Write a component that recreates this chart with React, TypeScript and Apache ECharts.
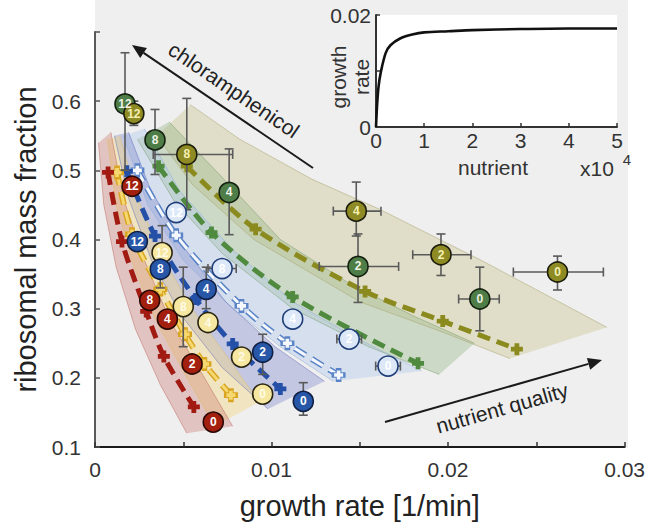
import React, { useEffect, useRef } from "react";
import * as echarts from "echarts";

const FONT = '"Liberation Sans", Arial, Helvetica, sans-serif';

// chloramphenicol levels printed on the markers
const levels = [0, 2, 4, 8, 12];

// measured points: growth rate [1/min] and ribosomal mass fraction, ordered by level
const oliveRate = [0.0262, 0.0196, 0.0148, 0.0052, 0.0022];
const oliveFrac = [0.353, 0.378, 0.441, 0.523, 0.582];
const oliveRateErr = [[0.0237, 0.0288], [0.018, 0.0213], [0.0135, 0.0162], [0.0033, 0.0078], null];
const oliveFracErr = [[0.327, 0.376], [0.348, 0.408], [0.405, 0.483], [0.443, 0.604], [0.565, 0.6]];

const greenRate = [0.0218, 0.0149, 0.0076, 0.0034, 0.0017];
const greenFrac = [0.314, 0.361, 0.468, 0.544, 0.596];
const greenRateErr = [[0.0206, 0.0229], [0.0127, 0.0172], null, null, null];
const greenFracErr = [[0.268, 0.36], [0.309, 0.408], [0.407, 0.531], [0.494, 0.588], [0.5, 0.67]];

const lightRate = [0.0166, 0.0144, 0.0112, 0.0072, 0.0046];
const lightFrac = [0.217, 0.256, 0.285, 0.358, 0.439];
const lightRateErr = [[0.0159, 0.0173], [0.0137, 0.0151], null, [0.0064, 0.008], null];
const lightFracErr = [null, null, null, null, null];

const blueRate = [0.0118, 0.0095, 0.0063, 0.0037, 0.0024];
const blueFrac = [0.166, 0.237, 0.328, 0.357, 0.397];
const blueRateErr = [null, null, null, null, null];
const blueFracErr = [[0.146, 0.193], [0.205, 0.263], [0.3, 0.36], [0.33, 0.385], null];

const yellowRate = [0.0095, 0.0083, 0.0064, 0.005, 0.0038];
const yellowFrac = [0.1765, 0.23, 0.28, 0.303, 0.381];
const yellowRateErr = [null, null, null, null, null];
const yellowFracErr = [null, null, null, [0.245, 0.36], [0.36, 0.42]];

const redRate = [0.0067, 0.0055, 0.0041, 0.0031, 0.0021];
const redFrac = [0.136, 0.22, 0.285, 0.312, 0.477];
const redRateErr = [null, null, null, null, null];
const redFracErr = [null, null, null, null, null];

// model mean trajectories (dashed)
const oliveModel = [[0.0052, 0.506], [0.0091, 0.415], [0.0153, 0.325], [0.0197, 0.282], [0.0239, 0.2415]];
const greenModel = [[0.0036, 0.506], [0.0066, 0.41], [0.0112, 0.317], [0.0183, 0.221]];
const lightModel = [[0.0024, 0.5], [0.0046, 0.406], [0.0083, 0.304], [0.0109, 0.25], [0.0138, 0.204]];
const blueModel = [[0.0018, 0.4985], [0.0034, 0.405], [0.0057, 0.314], [0.0078, 0.249], [0.0105, 0.184]];
const yellowModel = [[0.00125, 0.497], [0.0021, 0.4075], [0.0037, 0.328], [0.0051, 0.263], [0.0062, 0.22], [0.0077, 0.175]];
const redModel = [[0.00074, 0.497], [0.00153, 0.397], [0.0029, 0.296], [0.0039, 0.231], [0.0056, 0.158]];

// spread of model simulations (lower / upper edges of each fan)
const oliveLo = [[0.0035, 0.55], [0.0055, 0.48], [0.009, 0.4], [0.015, 0.31], [0.0195, 0.268], [0.0235, 0.228]];
const oliveHi = [[0.0054, 0.595], [0.0082, 0.545], [0.0123, 0.487], [0.0161, 0.444], [0.0218, 0.371], [0.029, 0.273]];
const greenLo = [[0.0024, 0.545], [0.0045, 0.455], [0.0072, 0.38], [0.0112, 0.3], [0.0155, 0.245], [0.0195, 0.205]];
const greenHi = [[0.0042, 0.57], [0.0072, 0.49], [0.0105, 0.4], [0.0145, 0.335], [0.018, 0.29], [0.0215, 0.25]];
const lightLo = [[0.0016, 0.55], [0.003, 0.45], [0.005, 0.37], [0.0078, 0.3], [0.0105, 0.245], [0.0135, 0.195]];
const lightHi = [[0.0028, 0.56], [0.0048, 0.47], [0.0078, 0.385], [0.0112, 0.31], [0.015, 0.255], [0.0185, 0.21]];
const blueLo = [[0.0011, 0.55], [0.0019, 0.46], [0.0032, 0.37], [0.0049, 0.29], [0.0072, 0.215], [0.0098, 0.155]];
const blueHi = [[0.0019, 0.555], [0.0031, 0.475], [0.005, 0.39], [0.0074, 0.31], [0.0102, 0.245], [0.013, 0.195]];
const yellowLo = [[0.0007, 0.545], [0.0012, 0.45], [0.0022, 0.36], [0.0035, 0.28], [0.0052, 0.2], [0.0068, 0.13]];
const yellowHi = [[0.0014, 0.55], [0.0024, 0.46], [0.0038, 0.375], [0.0055, 0.3], [0.0075, 0.23], [0.0093, 0.165]];
const redLo = [[0.0002, 0.54], [0.0005, 0.45], [0.0012, 0.36], [0.0023, 0.27], [0.0037, 0.19], [0.0052, 0.12]];
const redHi = [[0.0009, 0.555], [0.0016, 0.46], [0.0028, 0.37], [0.0043, 0.28], [0.0062, 0.2], [0.0078, 0.13]];

// inset: growth rate vs nutrient
const nutrient = [0, 200, 500, 1000, 2000, 3000, 5000, 7500, 10000, 15000, 20000, 30000, 40000, 50000];
const insetGrowth = [0, 0.0035, 0.007, 0.0098, 0.0132, 0.0146, 0.0158, 0.0165, 0.0169, 0.0171, 0.0173, 0.0175, 0.0176, 0.0176];

const PLUS = "path://M3,0H7V3H10V7H7V10H3V7H0V3H3Z";

const strains = [
  { rate: oliveRate, frac: oliveFrac, rErr: oliveRateErr, fErr: oliveFracErr, lo: oliveLo, hi: oliveHi, model: oliveModel,
    fill: "#8e8b24", border: "#1c1c0c", text: "#f4f0b2", band: "rgba(196,190,130,0.36)", edge: "rgba(165,160,105,0.6)", dash: "#8b8a1e", inner: null },
  { rate: greenRate, frac: greenFrac, rErr: greenRateErr, fErr: greenFracErr, lo: greenLo, hi: greenHi, model: greenModel,
    fill: "#4e7d47", border: "#142010", text: "#eef3e6", band: "rgba(145,178,128,0.36)", edge: "rgba(120,155,105,0.6)", dash: "#4f8a3e", inner: null },
  { rate: lightRate, frac: lightFrac, rErr: lightRateErr, fErr: lightFracErr, lo: lightLo, hi: lightHi, model: lightModel,
    fill: "#dce8f8", border: "#1f3e78", text: "#ffffff", band: "rgba(175,200,235,0.4)", edge: "rgba(140,170,215,0.6)", dash: "#5b84c8", inner: "#f4f7fc" },
  { rate: blueRate, frac: blueFrac, rErr: blueRateErr, fErr: blueFracErr, lo: blueLo, hi: blueHi, model: blueModel,
    fill: "#2857a8", border: "#0f1f44", text: "#ffffff", band: "rgba(110,122,200,0.34)", edge: "rgba(95,105,185,0.6)", dash: "#2450a8", inner: null },
  { rate: yellowRate, frac: yellowFrac, rErr: yellowRateErr, fErr: yellowFracErr, lo: yellowLo, hi: yellowHi, model: yellowModel,
    fill: "#f6e7a1", border: "#2a2510", text: "#fffbe6", band: "rgba(245,215,125,0.4)", edge: "rgba(225,190,100,0.6)", dash: "#d9a521", inner: "#f5d970" },
  { rate: redRate, frac: redFrac, rErr: redRateErr, fErr: redFracErr, lo: redLo, hi: redHi, model: redModel,
    fill: "#a3200f", border: "#2a0804", text: "#ffffff", band: "rgba(200,115,105,0.34)", edge: "rgba(190,100,90,0.6)", dash: "#a11b12", inner: null },
];

function buildOption() {
  const series: any[] = [];

  // fans of model simulations
  strains.forEach((s) => {
    const poly = [...s.lo, ...s.hi.slice().reverse()];
    series.push({
      type: "custom", xAxisIndex: 0, yAxisIndex: 0, silent: true, z: 1,
      data: [s.lo[0]],
      renderItem: (_p: any, api: any) => ({
        type: "polygon",
        shape: { points: poly.map((p) => api.coord(p)) },
        style: { fill: s.band, stroke: null },
      }),
    });
  });
  strains.forEach((s) => {
    [s.lo, s.hi].forEach((edge) =>
      series.push({
        type: "line", xAxisIndex: 0, yAxisIndex: 0, silent: true, z: 1, showSymbol: false,
        data: edge, lineStyle: { color: s.edge, width: 0.8 },
      })
    );
  });

  // dashed model lines
  strains.forEach((s) => {
    series.push({
      type: "line", xAxisIndex: 0, yAxisIndex: 0, silent: true, z: 3, smooth: 0.3,
      data: s.model, symbol: PLUS, symbolSize: s.inner ? 14 : 12, showSymbol: true,
      itemStyle: { color: s.dash },
      lineStyle: { color: s.dash, width: s.inner ? 6 : 5, type: [13, 7] },
    });
    if (s.inner) {
      series.push({
        type: "line", xAxisIndex: 0, yAxisIndex: 0, silent: true, z: 3, smooth: 0.3,
        data: s.model, symbol: PLUS, symbolSize: 9, showSymbol: true,
        itemStyle: { color: s.inner },
        lineStyle: { color: s.inner, width: 3, type: [13, 7] },
      });
    }
  });

  // error bars
  const errs: any[] = [];
  strains.forEach((s) => {
    s.rate.forEach((r, i) => {
      const xe = s.rErr[i];
      const ye = s.fErr[i];
      if (xe || ye) errs.push({ x: r, y: s.frac[i], xe, ye });
    });
  });
  series.push({
    type: "custom", xAxisIndex: 0, yAxisIndex: 0, silent: true, z: 4,
    data: errs.map((e) => [e.x, e.y]),
    renderItem: (p: any, api: any) => {
      const e = errs[p.dataIndex];
      const st = { stroke: "#5a5a5a", lineWidth: 1.6 };
      const ch: any[] = [];
      const cap = 4.5;
      if (e.ye) {
        const a = api.coord([e.x, e.ye[0]]);
        const b = api.coord([e.x, e.ye[1]]);
        ch.push({ type: "line", shape: { x1: a[0], y1: a[1], x2: b[0], y2: b[1] }, style: st });
        ch.push({ type: "line", shape: { x1: a[0] - cap, y1: a[1], x2: a[0] + cap, y2: a[1] }, style: st });
        ch.push({ type: "line", shape: { x1: b[0] - cap, y1: b[1], x2: b[0] + cap, y2: b[1] }, style: st });
      }
      if (e.xe) {
        const a = api.coord([e.xe[0], e.y]);
        const b = api.coord([e.xe[1], e.y]);
        ch.push({ type: "line", shape: { x1: a[0], y1: a[1], x2: b[0], y2: b[1] }, style: st });
        ch.push({ type: "line", shape: { x1: a[0], y1: a[1] - cap, x2: a[0], y2: a[1] + cap }, style: st });
        ch.push({ type: "line", shape: { x1: b[0], y1: b[1] - cap, x2: b[0], y2: b[1] + cap }, style: st });
      }
      return { type: "group", children: ch };
    },
  });

  // measured markers (drawing order for overlaps)
  [1, 0, 2, 4, 3, 5].forEach((k) => {
    const s = strains[k];
    series.push({
      type: "scatter", xAxisIndex: 0, yAxisIndex: 0, z: 5, silent: true,
      symbol: "circle", symbolSize: 20,
      data: s.rate.map((r, i) => [r, s.frac[i], levels[i]]),
      itemStyle: { color: s.fill, borderColor: s.border, borderWidth: 1.6, opacity: 1 },
      label: {
        show: true, position: "inside", formatter: (p: any) => String(p.value[2]),
        color: s.text, fontSize: 12, fontWeight: "bold", fontFamily: FONT,
      },
    });
  });

  // inset curve
  series.push({
    type: "line", xAxisIndex: 1, yAxisIndex: 1, z: 6, silent: true, smooth: 0.3, showSymbol: false,
    data: nutrient.map((n, i) => [n, insetGrowth[i]]),
    lineStyle: { color: "#111", width: 2.6 },
  });

  const labelFont = { fontFamily: FONT, color: "#333", fontSize: 21 };

  return {
    animation: false,
    backgroundColor: "#ffffff",
    grid: [
      { left: 95, top: 32, width: 530, height: 416 },
      { left: 376, top: 15, width: 241, height: 112 },
    ],
    xAxis: [
      {
        type: "value", gridIndex: 0, min: 0, max: 0.03, interval: 0.005,
        axisLine: { show: true, lineStyle: { color: "#1a1a1a", width: 2 } },
        axisTick: { show: true, inside: true, length: 5, lineStyle: { color: "#333", width: 1.5 } },
        axisLabel: {
          ...labelFont, margin: 12,
          formatter: (v: number) => (Math.round(v * 1000) % 10 === 0 ? String(Math.round(v * 100) / 100) : ""),
        },
        splitLine: { show: false },
        name: "growth rate [1/min]", nameLocation: "middle", nameGap: 44,
        nameTextStyle: { fontFamily: FONT, fontSize: 29, color: "#222" },
      },
      {
        type: "value", gridIndex: 1, min: 0, max: 50000, interval: 10000,
        axisLine: { show: true, lineStyle: { color: "#333", width: 2 } },
        axisTick: { show: true, inside: true, length: 4, lineStyle: { color: "#333", width: 1.5 } },
        axisLabel: { ...labelFont, margin: 3, formatter: (v: number) => String(v / 10000) },
        splitLine: { show: false },
      },
    ],
    yAxis: [
      {
        type: "value", gridIndex: 0, min: 0.1, max: 0.7, interval: 0.1,
        axisLine: { show: true, lineStyle: { color: "#5a5a5a", width: 2 } },
        axisTick: { show: true, inside: true, length: 5, lineStyle: { color: "#555", width: 1.5 } },
        axisLabel: { ...labelFont, margin: 14, formatter: (v: number) => (v > 0.65 ? "" : v.toFixed(1)) },
        splitLine: { show: false },
        name: "ribosomal mass fraction", nameLocation: "middle", nameGap: 46,
        nameTextStyle: { fontFamily: FONT, fontSize: 29, color: "#222" },
      },
      {
        type: "value", gridIndex: 1, min: 0, max: 0.02, interval: 0.01,
        axisLine: { show: true, lineStyle: { color: "#333", width: 2 } },
        axisTick: { show: true, inside: true, length: 4, lineStyle: { color: "#333", width: 1.5 } },
        axisLabel: { ...labelFont, margin: 5, formatter: (v: number) => (v === 0 ? "0" : v > 0.015 ? "0.02" : "") },
        splitLine: { show: false },
      },
    ],
    graphic: [
      { type: "rect", z: -10, silent: true, shape: { x: 95, y: 0, width: 533, height: 448 }, style: { fill: "#efefef" } },
      { type: "rect", z: -5, silent: true, shape: { x: 376, y: 15, width: 241, height: 112 }, style: { fill: "#ffffff" } },
      { type: "line", z: 10, shape: { x1: 313, y1: 168, x2: 143.6, y2: 52.9 }, style: { stroke: "#1a1a1a", lineWidth: 2 } },
      { type: "polygon", z: 10, shape: { points: [[132, 45], [146.9, 47.9], [140.2, 57.9]] }, style: { fill: "#1a1a1a" } },
      {
        type: "text", z: 10, x: 234, y: 90, rotation: -0.597,
        style: { text: "chloramphenicol", fontSize: 21, fontFamily: FONT, fill: "#222", align: "center", verticalAlign: "middle" },
      },
      { type: "line", z: 10, shape: { x1: 385, y1: 422, x2: 588.5, y2: 363.9 }, style: { stroke: "#1a1a1a", lineWidth: 2 } },
      { type: "polygon", z: 10, shape: { points: [[602, 360], [590.2, 369.7], [586.9, 358.1]] }, style: { fill: "#1a1a1a" } },
      {
        type: "text", z: 10, x: 502, y: 408, rotation: 0.276,
        style: { text: "nutrient quality", fontSize: 21, fontFamily: FONT, fill: "#222", align: "center", verticalAlign: "middle" },
      },
      {
        type: "text", z: 10, x: 338, y: 77, rotation: Math.PI / 2,
        style: { text: "growth", fontSize: 21, fontFamily: FONT, fill: "#333", align: "center", verticalAlign: "middle" },
      },
      {
        type: "text", z: 10, x: 361, y: 77, rotation: Math.PI / 2,
        style: { text: "rate", fontSize: 21, fontFamily: FONT, fill: "#333", align: "center", verticalAlign: "middle" },
      },
      {
        type: "text", z: 10, x: 493, y: 167,
        style: { text: "nutrient", fontSize: 21, fontFamily: FONT, fill: "#333", align: "center", verticalAlign: "middle" },
      },
      {
        type: "text", z: 10, x: 597, y: 168,
        style: { text: "x10", fontSize: 21, fontFamily: FONT, fill: "#333", align: "center", verticalAlign: "middle" },
      },
      {
        type: "text", z: 10, x: 627, y: 159,
        style: { text: "4", fontSize: 15, fontFamily: FONT, fill: "#333", align: "center", verticalAlign: "middle" },
      },
    ],
    series,
  };
}

export default function App() {
  const ref = useRef<HTMLDivElement>(null);
  useEffect(() => {
    const chart = echarts.init(ref.current as HTMLDivElement, null, { renderer: "svg" });
    chart.setOption(buildOption() as any);
    return () => chart.dispose();
  }, []);
  return <div ref={ref} style={{ position: "fixed", left: 0, top: 0, width: 648, height: 525 }} />;
}
